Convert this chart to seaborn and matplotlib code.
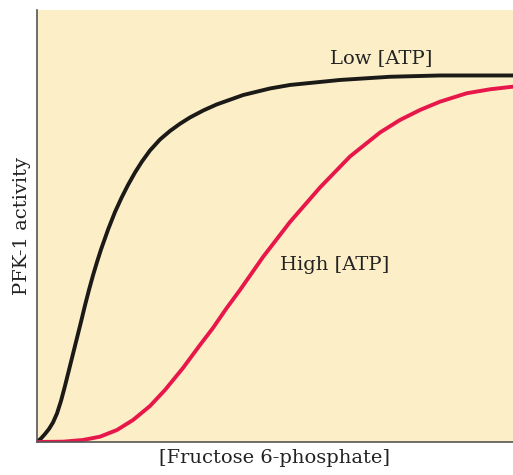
import matplotlib
matplotlib.use('Agg')
import matplotlib.pyplot as plt
import seaborn as sns
import pandas as pd

# values (arbitrary units, 0-100 on both axes)
low_x = [0, 0.84, 1.68, 2.52, 3.36, 4.20, 5.04, 5.88, 6.72, 7.56, 8.40,
         9.24, 10.08, 10.92, 11.76, 12.61, 13.45, 14.98, 16.39, 17.79,
         19.12, 20.59, 22.06, 23.74, 25.84, 27.94, 30.04, 32.14, 34.94,
         37.75, 43.34, 48.95, 53.15, 63.66, 74.16, 84.66, 100]
low_y = [0, 0.81, 1.85, 3.01, 4.51, 6.60, 9.49, 12.96, 16.67, 20.37, 24.07,
         27.78, 31.60, 35.19, 38.54, 41.67, 44.56, 49.31, 53.24, 56.60,
         59.49, 62.38, 64.93, 67.48, 70.02, 71.99, 73.66, 75.12, 76.74,
         78.13, 80.32, 81.83, 82.64, 83.80, 84.54, 84.84, 84.84]

high_x = [0, 5.46, 9.66, 13.24, 16.81, 20.17, 23.74, 26.89, 30.67, 34.24,
          36.97, 39.71, 42.65, 47.48, 53.15, 59.45, 65.76, 72.06, 76.26,
          80.46, 84.66, 90.27, 95.17, 100]
high_y = [0, 0.07, 0.46, 1.23, 2.78, 5.09, 8.33, 12.04, 17.13, 22.45,
          26.39, 30.79, 35.19, 42.82, 50.93, 58.91, 66.09, 71.64, 74.54,
          76.85, 78.77, 80.72, 81.64, 82.25]

labels = ["Low [ATP]", "High [ATP]"]
colors = ["#1c1a17", "#e8174a"]

df = pd.concat([
    pd.DataFrame({"x": low_x, "y": low_y, "cond": labels[0]}),
    pd.DataFrame({"x": high_x, "y": high_y, "cond": labels[1]}),
])

sns.set_style("white")
plt.rcParams['font.family'] = ['DejaVu Serif']

fig = plt.figure(figsize=(5.13, 4.75), dpi=100)
ax = fig.add_axes([0.0721, 0.0695, 0.9279, 0.9095])
ax.set_facecolor("#fcefc8")

sns.lineplot(data=df, x="x", y="y", hue="cond", palette=colors, sort=False,
             linewidth=2.8, legend=False, ax=ax,
             solid_joinstyle="round", solid_capstyle="round")

ax.set_xlim(0, 100)
ax.set_ylim(0, 100)
ax.set_xticks([])
ax.set_yticks([])
for s in ["top", "right"]:
    ax.spines[s].set_visible(False)
for s in ["left", "bottom"]:
    ax.spines[s].set_color("#555555")
    ax.spines[s].set_linewidth(1.2)

ax.text(72.3, 88.9, labels[0], ha="center", va="center", fontsize=14, color="#222222")
ax.text(62.6, 41.0, labels[1], ha="center", va="center", fontsize=14, color="#222222")

ax.set_xlabel("[Fructose 6-phosphate]", fontsize=14, color="#222222", labelpad=5)
ax.set_ylabel("PFK-1 activity", fontsize=14, color="#222222", labelpad=4)

fig.savefig("out.png", dpi=100)
